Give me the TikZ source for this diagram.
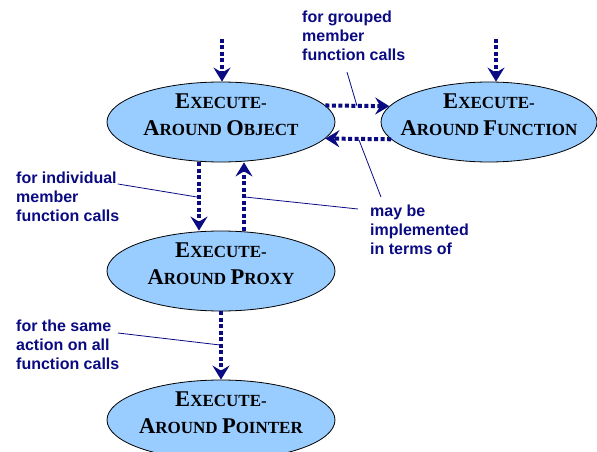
\documentclass[tikz,border=0pt]{standalone}
\usepackage{fontspec}
\setmainfont{Liberation Serif}
\setsansfont{Liberation Sans}
\usetikzlibrary{arrows.meta,shapes.geometric}
\definecolor{navy}{RGB}{10,10,130}
\definecolor{skyfill}{RGB}{153,204,255}
\newcommand{\capletter}[1]{{\fontsize{22.5pt}{27pt}\selectfont #1}}
\tikzset{
    blob/.style = {
        ellipse,
        draw = black,
        line width = 0.8pt,
        fill = skyfill,
        minimum width = 228pt,
        minimum height = 80pt,
        inner sep = 0pt,
        },
    blob text/.style = {
        font = \fontsize{17pt}{27pt}\selectfont\bfseries,
        align = center,
        inner sep = 0pt,
        },
    remark/.style = {
        font = \sffamily\bfseries\fontsize{16pt}{18.7pt}\selectfont,
        text = navy,
        align = left,
        anchor = north west,
        inner sep = 0pt,
        },
    dotflow/.style = {
        draw = navy,
        line width = 4pt,
        dash pattern = on 4pt off 2.5pt,
        -{Stealth[length=14pt, width=17pt, inset=5pt]},
        },
    pointer/.style = {
        draw = navy,
        line width = 0.8pt,
        },
}
\begin{document}
\begin{tikzpicture}[x=1pt, y=-1pt]
    \useasboundingbox (0,0) rectangle (597,452);

    % the four variants
    \node [blob] (obj) at (221,122) {};
    \node [blob, minimum width=216pt] (fun) at (489,122) {};
    \node [blob] (proxy) at (221,271) {};
    \node [blob] (ptr) at (221,420) {};

    \node [blob text] (objtext) at ([yshift=7pt] obj.center) {\capletter{E}XECUTE-\\\capletter{A}ROUND \capletter{O}BJECT};
    \node [blob text] (funtext) at ([yshift=7pt] fun.center) {\capletter{E}XECUTE-\\\capletter{A}ROUND \capletter{F}UNCTION};
    \node [blob text] (proxytext) at ([yshift=7pt] proxy.center) {\capletter{E}XECUTE-\\\capletter{A}ROUND \capletter{P}ROXY};
    \node [blob text] (ptrtext) at ([yshift=7pt] ptr.center) {\capletter{E}XECUTE-\\\capletter{A}ROUND \capletter{P}OINTER};

    % incoming calls
    \coordinate (objin) at (222,39);
    \coordinate (funin) at (496,39);
    \draw [dotflow] (objin) -- (obj.north -| objin);
    \draw [dotflow] (funin) -- (fun.north -| funin);

    % between the variants
    \draw [dotflow] (obj.9) -- (fun.171);
    \draw [dotflow] (fun.190) -- (obj.-9);
    \draw [dotflow] ([xshift=-22pt] obj.south) -- ([xshift=-22pt] proxy.north);
    \draw [dotflow] ([xshift=23pt] proxy.north) -- ([xshift=23pt] obj.south);
    \draw [dotflow] (proxy.south) -- (ptr.north);

    % remarks
    \node [remark] (grouped) at (302,11) {for grouped\\member\\function calls};
    \node [remark] (single) at (16,172) {for individual\\member\\function calls};
    \node [remark] (terms) at (370,205) {may be\\implemented\\in terms of};
    \node [remark] (same) at (16,320) {for the same\\action on all\\function calls};

    \coordinate (groupedstart) at (347,72);
    \coordinate (groupedend) at (357,106);
    \coordinate (termsstart) at (381,197);
    \coordinate (termsup) at (359,140);
    \coordinate (termsside) at (358,209);
    \coordinate (termsleft) at (245,197);
    \coordinate (singlestart) at (118,184);
    \coordinate (singleend) at (197,197);
    \coordinate (samestart) at (118,333);
    \coordinate (sameend) at (220,345);
    \draw [pointer] (groupedstart) -- (groupedend);
    \draw [pointer] (termsstart) -- (termsup);
    \draw [pointer] (termsside) -- (termsleft);
    \draw [pointer] (singlestart) -- (singleend);
    \draw [pointer] (samestart) -- (sameend);
\end{tikzpicture}
\end{document}
